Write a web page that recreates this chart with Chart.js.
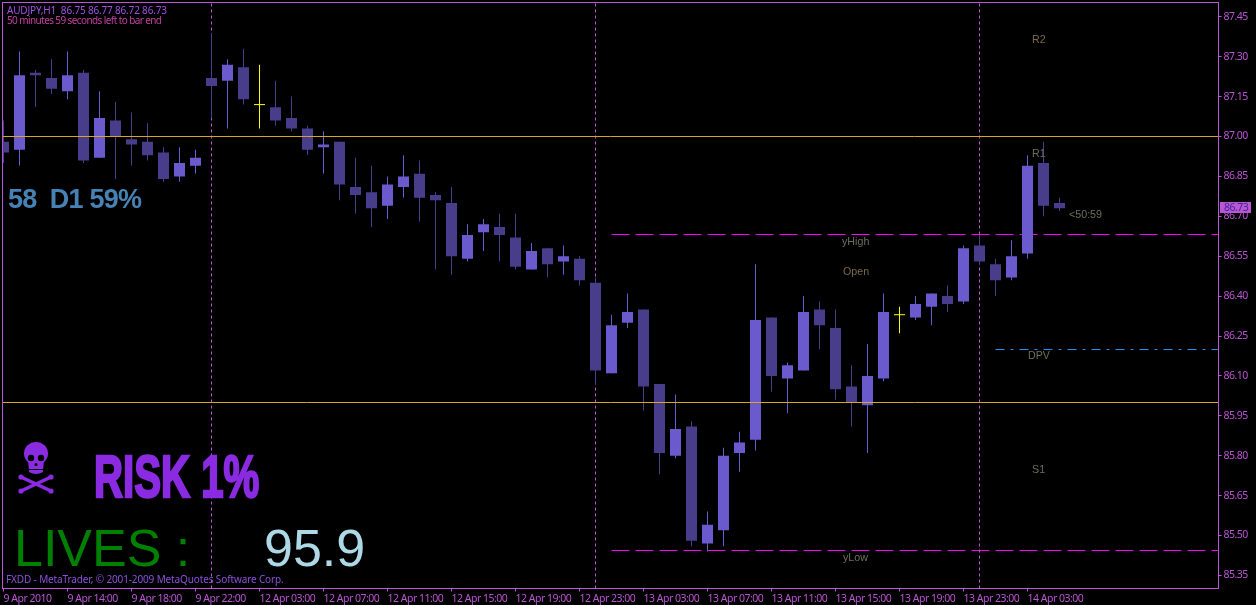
<!DOCTYPE html>
<html>
<head>
<meta charset="utf-8">
<title>AUDJPY,H1</title>
<script src="https://cdn.jsdelivr.net/npm/chart.js@4/dist/chart.umd.js"></script>
<style>
  html, body { margin: 0; padding: 0; background: #000; }
  canvas { display: block; }
</style>
</head>
<body>
<canvas id="chart" width="1256" height="605"></canvas>
<script>
// hourly bars, oldest first
const opens = [86.98,86.95,87.24,87.22,87.17,87.24,86.92,87.06,86.99,86.98,86.94,86.85,86.89,87.22,87.21,87.26,87.12,87.11,87.07,87.03,86.96,86.98,86.81,86.79,86.74,86.81,86.86,86.78,86.75,86.54,86.64,86.66,86.62,86.50,86.58,86.53,86.54,86.45,86.11,86.30,86.35,86.07,85.80,85.91,85.47,85.52,85.81,85.86,86.32,86.09,86.12,86.35,86.28,86.06,85.99,86.09,86.33,86.32,86.36,86.40,86.38,86.59,86.52,86.47,86.56,86.90,86.75];
const highs = [87.06,87.32,87.25,87.29,87.32,87.25,87.17,87.13,87.09,87.05,86.96,86.96,86.95,87.39,87.29,87.33,87.27,87.21,87.15,87.04,87.02,86.98,86.92,86.89,86.85,86.93,86.91,86.79,86.81,86.67,86.69,86.71,86.71,86.60,86.58,86.59,86.55,86.47,86.33,86.41,86.35,86.07,86.03,85.93,85.59,85.83,85.89,86.52,86.32,86.15,86.40,86.38,86.35,86.14,86.22,86.41,86.36,86.40,86.41,86.44,86.59,86.63,86.54,86.61,86.93,86.98,86.77];
const lows = [86.90,86.89,87.11,87.16,87.14,86.90,86.92,86.84,86.89,86.91,86.83,86.83,86.86,87.07,87.03,87.12,87.03,87.04,87.02,86.93,86.86,86.76,86.71,86.66,86.69,86.77,86.68,86.50,86.48,86.53,86.57,86.53,86.50,86.50,86.47,86.48,86.44,86.07,86.11,86.28,85.97,85.73,85.79,85.46,85.44,85.46,85.74,85.82,86.04,85.96,86.12,86.20,86.01,85.91,85.81,86.08,86.26,86.31,86.29,86.34,86.37,86.52,86.40,86.46,86.54,86.70,86.72];
const closes = [86.94,87.23,87.23,87.18,87.23,86.91,87.07,87.00,86.97,86.93,86.84,86.90,86.92,87.19,87.27,87.14,87.12,87.06,87.03,86.95,86.97,86.82,86.78,86.73,86.82,86.85,86.77,86.76,86.55,86.63,86.67,86.63,86.51,86.57,86.52,86.55,86.46,86.12,86.29,86.34,86.06,85.81,85.90,85.48,85.54,85.80,85.85,86.31,86.10,86.14,86.34,86.29,86.05,86.00,86.10,86.34,86.33,86.37,86.41,86.37,86.58,86.53,86.46,86.55,86.89,86.74,86.73];

const xTickIndex = [0,4,8,12,16,20,24,28,32,36,40,44,48,52,56,60,64];
const xTickLabels = ['9 Apr 2010','9 Apr 14:00','9 Apr 18:00','9 Apr 22:00','12 Apr 03:00','12 Apr 07:00','12 Apr 11:00','12 Apr 15:00','12 Apr 19:00','12 Apr 23:00','13 Apr 03:00','13 Apr 07:00','13 Apr 11:00','13 Apr 15:00','13 Apr 19:00','13 Apr 23:00','14 Apr 03:00'];
const yTicks = [85.35,85.50,85.65,85.80,85.95,86.10,86.25,86.40,86.55,86.70,86.85,87.00,87.15,87.30,87.45];

const dayBreaks = [13, 37, 61];
const orangeLevels = [87.00, 86.00];
const yHigh = 86.6316;
const yLow = 85.4436;
const dpv = 86.1992;
const levelStart = 38;
const dpvStart = 62;
const lastPrice = 86.73;

const xMin = -0.0625, xMax = 75.9375;
const yMin = 85.3008, yMax = 87.5038;

const AXIS = '#ba55d3';
const BULL = '#6a5acd';
const BEAR = '#483d8b';
const DOJI = '#ffff00';
const VIOLET = '#8a2be2';

const barIdx = opens.map((_, i) => i);
const isDoji = i => opens[i] === closes[i];
const barColor = i => isDoji(i) ? DOJI : closes[i] > opens[i] ? BULL : BEAR;

const wicks = barIdx.map(i => ({ x: i, y: [lows[i], highs[i]] }));
const bodies = barIdx.filter(i => !isDoji(i)).map(i => ({ x: i, y: [opens[i], closes[i]] }));
const dojis = barIdx.filter(isDoji).map(i => ({ x: i, y: opens[i] }));

function levelLine(y, from, color, dash, order) {
  return {
    type: 'line',
    data: [{ x: from, y }, { x: xMax, y }],
    borderColor: color,
    borderWidth: 1,
    borderDash: dash,
    pointRadius: 0,
    order,
  };
}

function text(ctx, str, x, y, font, color) {
  ctx.font = font;
  ctx.fillStyle = color;
  ctx.fillText(str, x, y);
}

// the Wingdings skull from the MT4 label, no installed font has a solid one
function drawSkull(ctx) {
  ctx.fillStyle = VIOLET;
  ctx.strokeStyle = VIOLET;
  ctx.lineCap = 'round';
  ctx.lineWidth = 3.5;
  [[21, 477, 51, 491], [21, 491, 51, 477]].forEach(([x1, y1, x2, y2]) => {
    ctx.beginPath();
    ctx.moveTo(x1, y1);
    ctx.lineTo(x2, y2);
    ctx.stroke();
    [[x1, y1], [x2, y2]].forEach(([bx, by]) => {
      ctx.beginPath();
      ctx.arc(bx, by, 2.6, 0, Math.PI * 2);
      ctx.fill();
    });
  });
  ctx.beginPath();
  ctx.ellipse(36, 453.5, 12, 11.5, 0, 0, Math.PI * 2);
  ctx.fill();
  ctx.beginPath();
  ctx.moveTo(28, 459);
  ctx.lineTo(29, 472);
  ctx.quadraticCurveTo(36, 476, 43, 472);
  ctx.lineTo(44, 459);
  ctx.fill();
  ctx.fillStyle = '#000';
  [[31, 458], [41, 458], [36, 464.5]].forEach(([hx, hy], n) => {
    ctx.beginPath();
    ctx.arc(hx, hy, n === 2 ? 1.5 : 3.2, 0, Math.PI * 2);
    ctx.fill();
  });
  ctx.fillRect(29, 469, 14, 1);
}

// MT4 frame, price label and the indicator texts sitting on the chart
const overlay = {
  id: 'overlay',
  beforeDraw(chart) {
    // tahoma is narrower than anything installed, tighten the axis labels
    chart.ctx.letterSpacing = '-0.5px';
  },
  afterDraw(chart) {
    const { ctx, chartArea: a, scales } = chart;
    ctx.save();
    ctx.letterSpacing = '0px';
    ctx.strokeStyle = AXIS;
    ctx.lineWidth = 1;
    ctx.strokeRect(a.left, a.top, a.right - a.left, a.bottom - a.top);

    ctx.textBaseline = 'alphabetic';
    ctx.textAlign = 'left';

    const header = '10px "Noto Sans", sans-serif';
    ctx.letterSpacing = '-0.18px';
    text(ctx, 'AUDJPY,H1  86.75 86.77 86.72 86.73', 7, 14, header, '#a050e0');
    ctx.letterSpacing = '-0.6px';
    text(ctx, '50 minutes 59 seconds left to bar end', 7, 24, header, '#c040a0');
    ctx.letterSpacing = '-0.13px';
    text(ctx, 'FXDD - MetaTrader, \u00a9 2001-2009 MetaQuotes Software Corp.', 6, 583, header, '#8a50d8');
    ctx.letterSpacing = '0px';

    const label = '10.7px "Liberation Sans", sans-serif';
    const grey = '#6e6e5e';
    text(ctx, 'R2', 1032, 43, label, '#7a6a48');
    text(ctx, 'R1', 1032, 157, label, grey);
    text(ctx, 'yHigh', 842, 245, label, grey);
    text(ctx, 'Open', 843, 275, label, '#7a6a48');
    text(ctx, 'DPV', 1028, 359, label, grey);
    text(ctx, 'S1', 1032, 473, label, grey);
    text(ctx, 'yLow', 843, 561, label, grey);
    text(ctx, '<50:59', 1069, 218, label, grey);

    ctx.letterSpacing = '-0.8px';
    text(ctx, '58  D1 59%', 8, 208, 'bold 27px "Liberation Sans", sans-serif', '#4682b4');
    ctx.letterSpacing = '0px';

    ctx.save();
    drawSkull(ctx);
    ctx.restore();

    ctx.save();
    ctx.translate(94, 497);
    ctx.scale(0.67, 1);
    ctx.strokeStyle = VIOLET;
    ctx.lineWidth = 2.5;
    ctx.font = 'bold 60px "Liberation Sans", sans-serif';
    ctx.fillStyle = VIOLET;
    ctx.fillText('RISK 1%', 0, 0);
    ctx.strokeText('RISK 1%', 0, 0);
    ctx.restore();

    text(ctx, 'LIVES :', 14, 566, '52px "Liberation Sans", sans-serif', '#008000');
    text(ctx, '95.9', 264, 566, '52px "Liberation Sans", sans-serif', '#add8e6');

    // current price tag on the right axis
    const py = Math.round(scales.y.getPixelForValue(lastPrice));
    ctx.fillStyle = AXIS;
    ctx.fillRect(1220, py - 6, 31, 11);
    ctx.fillStyle = '#3a2a9a';
    ctx.font = '10.5px "Noto Sans", sans-serif';
    ctx.letterSpacing = '-0.5px';
    ctx.fillText(lastPrice.toFixed(2), 1224, py + 3);
    ctx.restore();
  },
};

// chart.js reserves room for overhanging tick labels, MT4 doesn't
function noLabelPadding(scale) {
  scale.paddingLeft = scale.paddingRight = scale.paddingTop = scale.paddingBottom = 0;
}

new Chart(document.getElementById('chart'), {
  type: 'bar',
  plugins: [overlay],
  data: {
    datasets: [
      ...dayBreaks.map(x => ({
        type: 'line',
        data: [{ x, y: yMin }, { x, y: yMax }],
        borderColor: AXIS,
        borderWidth: 1,
        borderDash: [3, 3],
        pointRadius: 0,
        order: 9,
      })),
      levelLine(yHigh, levelStart, '#ff00ff', [18, 6], 10),
      levelLine(yLow, levelStart, '#ff00ff', [18, 6], 10),
      levelLine(dpv, dpvStart, '#1e90ff', [9, 6, 3, 6], 10),
      {
        data: wicks,
        backgroundColor: barIdx.map(barColor),
        barThickness: 1,
        grouped: false,
        inflateAmount: 0,
        order: 8,
      },
      {
        data: bodies,
        backgroundColor: bodies.map(b => closes[b.x] > opens[b.x] ? BULL : BEAR),
        barThickness: 11,
        grouped: false,
        inflateAmount: 0,
        order: 7,
      },
      {
        type: 'scatter',
        data: dojis,
        pointStyle: 'line',
        pointRadius: 5.5,
        borderColor: DOJI,
        borderWidth: 1,
        order: 6,
      },
      ...orangeLevels.map(y => levelLine(y, xMin, '#daa520', [], 5)),
    ],
  },
  options: {
    responsive: false,
    animation: false,
    events: [],
    layout: { autoPadding: false, padding: { left: 2.5, top: 2.5, right: 0, bottom: 0 } },
    plugins: { legend: { display: false }, tooltip: { enabled: false } },
    scales: {
      x: {
        type: 'linear',
        offset: false,
        min: xMin,
        max: xMax,
        afterFit(scale) { scale.height = 16.5; noLabelPadding(scale); },
        afterBuildTicks(scale) { scale.ticks = xTickIndex.map(value => ({ value })); },
        grid: { drawOnChartArea: false, offset: false, color: AXIS, tickLength: 3 },
        border: { color: AXIS },
        ticks: {
          align: 'start',
          autoSkip: false,
          maxRotation: 0,
          padding: 1,
          color: AXIS,
          font: { family: '"Noto Sans", sans-serif', size: 10.5 },
          callback: v => xTickLabels[xTickIndex.indexOf(v)],
        },
      },
      y: {
        position: 'right',
        min: yMin,
        max: yMax,
        afterFit(scale) { scale.width = 37.5; noLabelPadding(scale); },
        afterBuildTicks(scale) { scale.ticks = yTicks.map(value => ({ value })); },
        grid: { drawOnChartArea: false, color: AXIS, tickLength: 3 },
        border: { color: AXIS },
        ticks: {
          autoSkip: false,
          padding: 2,
          color: AXIS,
          font: { family: '"Noto Sans", sans-serif', size: 10.5 },
          callback: v => v.toFixed(2),
        },
      },
    },
  },
});
</script>
</body>
</html>
